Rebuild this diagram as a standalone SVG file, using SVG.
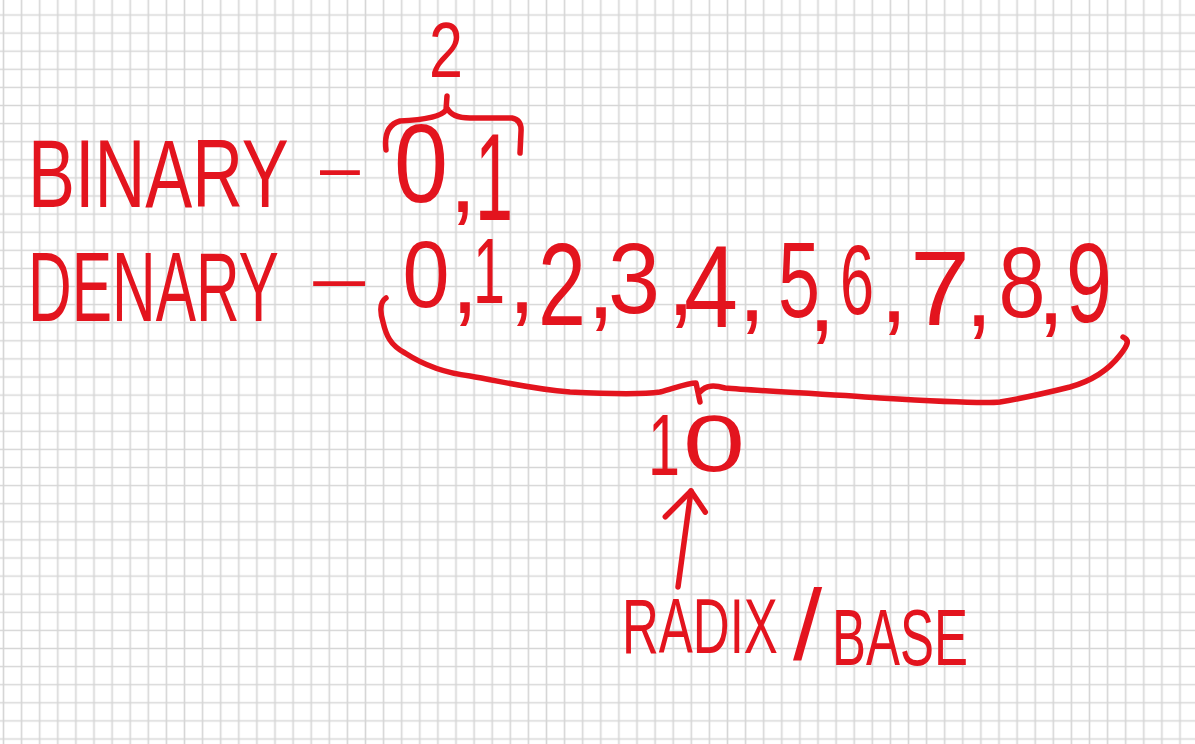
<svg xmlns="http://www.w3.org/2000/svg" width="1195" height="744" viewBox="0 0 1195 744">
<style>
.hw{font-family:"Liberation Sans",Arial,sans-serif;fill:#e3141e}
.num{font-family:"Liberation Sans",Arial,sans-serif;fill:#e3141e;text-anchor:middle}
.pen{fill:none;stroke:#e3141e;stroke-width:5.5;stroke-linecap:round;stroke-linejoin:round}
</style>
<defs>
<pattern id="grid" patternUnits="userSpaceOnUse" x="-5.55" y="5.95" width="18.1" height="18.1">
<path d="M9.05 0V18.1M0 9.05H18.1" stroke="#d6d6d6" stroke-width="1.6" fill="none"/>
</pattern>
<marker id="ah" markerUnits="userSpaceOnUse" viewBox="-40 -30 50 60" refX="0" refY="0" markerWidth="50" markerHeight="60" orient="auto" overflow="visible">
<path class="pen" d="M-29 -22L0 0L-19 17"/>
</marker>
</defs>
<rect width="1195" height="744" fill="#ffffff"/>
<rect width="1195" height="744" fill="url(#grid)"/>

<g id="binary-row">
<text class="hw" font-size="97" transform="translate(28 207) scale(0.7257 1)">BINARY</text>
<text class="hw" font-size="60" transform="translate(312.8 187.8) scale(2.72 1)">-</text>
<text class="num"><tspan x="421" y="202" style="font-size:112px" textLength="54" lengthAdjust="spacingAndGlyphs">0</tspan><tspan x="463" y="212" style="font-size:100px">,</tspan><tspan x="494" y="220" style="font-size:124px" textLength="38" lengthAdjust="spacingAndGlyphs">1</tspan></text>
</g>
<g id="binary-brace">
<path class="pen" d="M386 150Q383 126 400 121Q440 119 446 110L447 96M447 108Q452 118 470 118L512 118Q522 120 521 132L520 153"/>
</g>
<g id="binary-count">
<text class="num" font-size="78" transform="translate(446 77)" textLength="34" lengthAdjust="spacingAndGlyphs">2</text>
</g>

<g id="denary-row">
<text class="hw" font-size="98" transform="translate(28 321) scale(0.617 1)">DENARY</text>
<text class="hw" font-size="60" transform="translate(303.7 298.8) scale(3.54 1)">-</text>
<text class="num"><tspan x="426" y="307" style="font-size:94px" textLength="47" lengthAdjust="spacingAndGlyphs">0</tspan><tspan x="465" y="313" style="font-size:100px">,</tspan><tspan x="489" y="303" style="font-size:92px" textLength="32" lengthAdjust="spacingAndGlyphs">1</tspan><tspan x="522" y="313" style="font-size:100px">,</tspan><tspan x="562" y="325" style="font-size:117px" textLength="48" lengthAdjust="spacingAndGlyphs">2</tspan><tspan x="601" y="318" style="font-size:100px">,</tspan><tspan x="634" y="313" style="font-size:101px" textLength="52" lengthAdjust="spacingAndGlyphs">3</tspan><tspan x="681" y="315" style="font-size:100px">,</tspan><tspan x="711" y="327" style="font-size:116px" textLength="54" lengthAdjust="spacingAndGlyphs">4</tspan><tspan x="752" y="321" style="font-size:100px">,</tspan><tspan x="799" y="317" style="font-size:107px" textLength="42" lengthAdjust="spacingAndGlyphs">5</tspan><tspan x="822" y="331" style="font-size:100px">,</tspan><tspan x="857" y="314" style="font-size:98px" textLength="34" lengthAdjust="spacingAndGlyphs">6</tspan><tspan x="894" y="322" style="font-size:100px">,</tspan><tspan x="940" y="325" style="font-size:105px" textLength="60" lengthAdjust="spacingAndGlyphs">7</tspan><tspan x="979" y="326" style="font-size:100px">,</tspan><tspan x="1022" y="317" style="font-size:100px" textLength="47" lengthAdjust="spacingAndGlyphs">8</tspan><tspan x="1051" y="324" style="font-size:100px">,</tspan><tspan x="1089" y="322" style="font-size:113px" textLength="46" lengthAdjust="spacingAndGlyphs">9</tspan></text>
</g>
<g id="denary-brace">
<path class="pen" d="M386 298C380 302 380 312 383 322C386 335 390 345 405 353C425 366 445 373 470 376C500 381 530 389 570 392C610 394 640 395 660 392C675 388 688 383 696 383L700 402M700 392C706 385 714 385 725 388C760 391 830 394 880 398C930 401 980 404 1000 402C1030 397 1050 392 1070 387C1095 380 1110 368 1120 355C1128 345 1130 340 1123 337"/>
</g>
<g id="denary-count">
<text class="num"><tspan x="664" y="475" style="font-size:88px" textLength="32" lengthAdjust="spacingAndGlyphs">1</tspan><tspan x="714" y="471" style="font-size:80px" textLength="62" lengthAdjust="spacingAndGlyphs">0</tspan></text>
</g>

<g id="radix-label">
<text class="hw" font-size="78" transform="translate(622 653) scale(0.654 1)">RADIX</text>
<text class="hw" font-size="100" transform="translate(793 660) scale(1.05 1)">/</text>
<text class="hw" font-size="80" transform="translate(832 665) scale(0.637 1)">BASE</text>
</g>

<g id="connectors">
<path class="pen" d="M678 587L691 491" marker-end="url(#ah)"/>
</g>
</svg>
